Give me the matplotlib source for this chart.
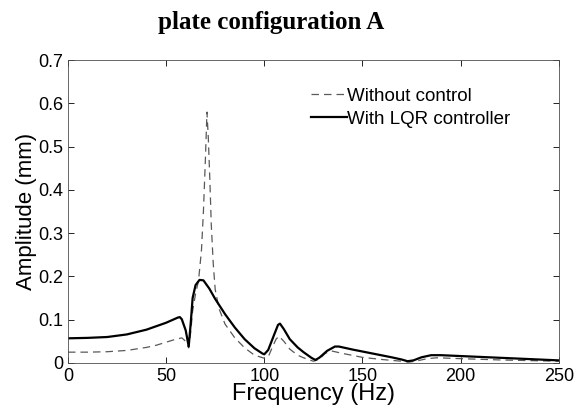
import matplotlib
matplotlib.use('Agg')
import matplotlib.pyplot as plt
from matplotlib.ticker import FuncFormatter

# frequency response
freq_lqr = [0, 10, 20, 30, 40, 45, 50, 54, 56, 57, 58, 60, 61.5, 62.5, 63.5, 65, 67, 69,
            72, 75, 80, 85, 90, 95, 99, 100, 102, 105, 107, 108, 110, 113, 117, 120, 124,
            126, 128, 132, 136, 138, 145, 155, 165, 170, 173, 176, 180, 185, 190, 200,
            220, 240, 250]
amp_lqr = [0.057, 0.058, 0.060, 0.066, 0.077, 0.085, 0.093, 0.101, 0.105, 0.106, 0.101,
           0.075, 0.038, 0.090, 0.150, 0.180, 0.192, 0.191, 0.172, 0.148, 0.113, 0.082,
           0.055, 0.034, 0.022, 0.020, 0.030, 0.065, 0.088, 0.091, 0.078, 0.055, 0.036,
           0.025, 0.012, 0.007, 0.012, 0.028, 0.038, 0.038, 0.031, 0.022, 0.013, 0.008,
           0.004, 0.006, 0.013, 0.018, 0.018, 0.016, 0.012, 0.008, 0.006]

freq_open = [0, 10, 20, 30, 40, 45, 50, 55, 58, 60, 61.5, 62.5, 63.5, 65, 66.5, 68, 69,
             70, 70.8, 71.5, 72.3, 73, 74, 75, 77, 80, 85, 90, 95, 100, 102, 104, 106,
             107.5, 110, 113, 117, 120, 125, 128, 131, 134, 140, 150, 160, 170, 174, 178,
             183, 188, 200, 220, 250]
amp_open = [0.025, 0.025, 0.026, 0.029, 0.036, 0.041, 0.048, 0.055, 0.058, 0.050, 0.035,
            0.070, 0.120, 0.160, 0.190, 0.260, 0.350, 0.470, 0.580, 0.520, 0.420, 0.320,
            0.230, 0.170, 0.125, 0.090, 0.058, 0.035, 0.018, 0.011, 0.014, 0.035, 0.055,
            0.062, 0.050, 0.032, 0.018, 0.012, 0.004, 0.008, 0.022, 0.028, 0.022, 0.013,
            0.008, 0.004, 0.002, 0.005, 0.010, 0.012, 0.010, 0.007, 0.004]

x_ticks = [0, 50, 100, 150, 200, 250]
y_ticks = [0, 0.1, 0.2, 0.3, 0.4, 0.5, 0.6, 0.7]

plt.rcParams['font.family'] = 'Liberation Sans'

fig = plt.figure(figsize=(5.76, 4.12), dpi=100)
ax = fig.add_axes([0.118, 0.119, 0.852, 0.735])

ax.plot(freq_open, amp_open, linestyle=(0, (6, 4)), color='0.35', linewidth=0.9,
        label='Without control')
ax.plot(freq_lqr, amp_lqr, color='black', linewidth=1.6, label='With LQR controller')

ax.set_xlim(0, 250)
ax.set_ylim(0, 0.7)
ax.set_xticks(x_ticks)
ax.set_yticks(y_ticks)
ax.yaxis.set_major_formatter(FuncFormatter(lambda v, p: '0' if v == 0 else f'{v:.1f}'))
ax.tick_params(direction='in', top=True, right=True, labelsize=13, length=4, width=0.6,
               colors='black')
for s in ax.spines.values():
    s.set_linewidth(0.6)
    s.set_color('0.3')

ax.set_xlabel('Frequency (Hz)', fontsize=17, labelpad=-1)
ax.set_ylabel('Amplitude (mm)', fontsize=16, labelpad=1)

ax.legend(loc='upper left', bbox_to_anchor=(0.495, 0.91), frameon=False, fontsize=13.5,
          handlelength=1.9, handletextpad=0.05, labelspacing=0.33, borderpad=0,
          borderaxespad=0)

fig.text(0.47, 0.945, 'plate configuration A', ha='center', va='center',
         fontsize=18, fontweight='bold', family='Liberation Serif')

fig.savefig('out.png', dpi=100)
